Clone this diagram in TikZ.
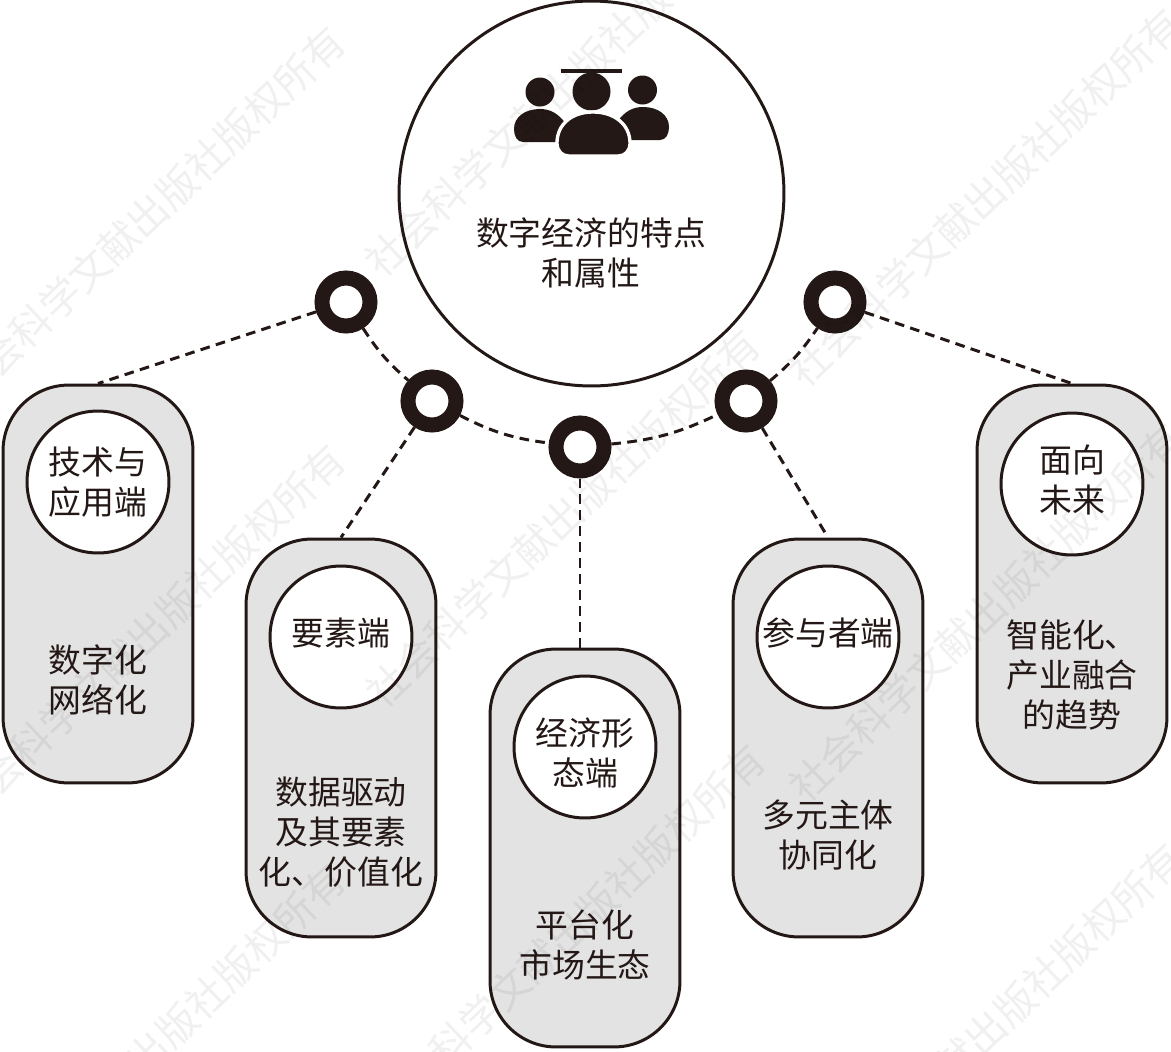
\documentclass[tikz,border=0pt]{standalone}
\usepackage{fontspec}
\setmainfont{Noto Sans CJK SC}
\definecolor{inkdark}{HTML}{231815}
\definecolor{pillgray}{HTML}{E3E3E3}
\begin{document}
\begin{tikzpicture}[x=0.02cm,y=-0.02cm]
    \useasboundingbox (0,0) rectangle (1171,1052);
    \clip (0,0) rectangle (1171,1052);
    \begin{scope}
        \tikzstyle{every node}=[fill=pillgray, draw=inkdark, line width=1.7pt, rectangle, rounded corners=1.32cm, minimum width=3.8cm, minimum height=7.96cm]
        \node (pillA) at (98,584) {};
        \node (pillB) at (341,738) {};
        \node (pillC) at (585,848) {};
        \node (pillD) at (828,738) {};
        \node (pillE) at (1072,584) {};
    \end{scope}
    \begin{scope}
        \tikzstyle{every node}=[fill=white, draw=inkdark, line width=1.7pt, circle, inner sep=0pt, minimum size=2.84cm]
        \node (headA) at (98,482) {};
        \node (headB) at (341,637) {};
        \node (headC) at (585,747) {};
        \node (headD) at (828,637) {};
        \node (headE) at (1072,484) {};
    \end{scope}
    \node[fill=white, draw=inkdark, line width=1.7pt, circle, inner sep=0pt, minimum size=7.7cm] (hub) at (591.5,193.5) {};
    \begin{scope}
        \tikzstyle{every node}=[text=inkdark, align=center, font=\fontsize{18.7}{22.7}\selectfont]
        \node (hubtext) at (591,253) {数字经济的特点\\和属性};
        \node (nameA) at (98,482) {技术与\\应用端};
        \node (nameB) at (341,633) {要素端};
        \node (nameC) at (585,753) {经济形\\态端};
        \node (nameD) at (828,633) {参与者端};
        \node (nameE) at (1072,480) {面向\\未来};
        \node (textA) at (98,680) {数字化\\网络化};
        \node (textB) at (341,832) {数据驱动\\及其要素\\化、价值化};
        \node (textC) at (585,945) {平台化\\市场生态};
        \node (textD) at (828,835) {多元主体\\协同化};
        \node (textE) at (1072,675) {智能化、\\产业融合\\的趋势};
    \end{scope}
    % people icon
    \fill[inkdark] (561,69) rectangle (622,72.5);
    \fill[inkdark] (540,92) circle (14.5);
    \fill[inkdark] (642.5,90) circle (14.5);
    \fill[inkdark] (591.5,91.5) circle (19);
    \fill[inkdark] (514,129) .. controls (514,117) and (525,109) .. (540,109) .. controls (550,109) and (558,113) .. (566,124) -- (566,142) -- (523,142) .. controls (517,142) and (514,136) .. (514,129) -- cycle;
    \fill[inkdark] (669,127) .. controls (669,115) and (658,107) .. (643,107) .. controls (633,107) and (625,111) .. (617,122) -- (617,140) -- (660,140) .. controls (666,140) and (669,134) .. (669,127) -- cycle;
    \filldraw[inkdark, draw=white, line width=1.9pt] (557,143) .. controls (557,125) and (571,112) .. (593,112) .. controls (615,112) and (630,125) .. (630,143) .. controls (630,151) and (625,156) .. (618,156) -- (569,156) .. controls (562,156) and (557,151) .. (557,143) -- cycle;
    \begin{scope}
        \tikzstyle{every node}=[fill=white, draw=inkdark, line width=0.3cm, circle, inner sep=0pt, minimum size=0.96cm]
        \node (ringA) at (346,302) {};
        \node (ringB) at (432,401) {};
        \node (ringC) at (580,447) {};
        \node (ringD) at (746,401) {};
        \node (ringE) at (835,302) {};
    \end{scope}
    \begin{scope}
        \tikzstyle{every edge}=[draw=inkdark, line width=1.7pt, dash pattern=on 5.5pt off 3.6pt]
        \path
        (ringA) edge[bend right=8] (ringB)
        (ringB) edge[bend right=10] (ringC)
        (ringC) edge[bend right=10] (ringD)
        (ringD) edge[bend right=8] (ringE)
        (ringA) edge[] (pillA.north)
        (ringB) edge[] (pillB.north)
        (ringC) edge[] (ringC |- pillC.north)
        (ringD) edge[] (pillD.north)
        (ringE) edge[] (pillE.north)
        ;
    \end{scope}
    % watermark
    \begin{scope}
        \tikzstyle{every node}=[text=black, opacity=0.06, rotate=43.5, font=\fontsize{23}{23}\selectfont]
        \foreach \wx/\wy [count=\wn] in {148/215,148/633,148/1053,562/88,563/518,568/933,985/197,986/612,986/1032}
            \node (wm\wn) at (\wx,\wy) {社会科学文献出版社版权所有};
    \end{scope}
\end{tikzpicture}
\end{document}
